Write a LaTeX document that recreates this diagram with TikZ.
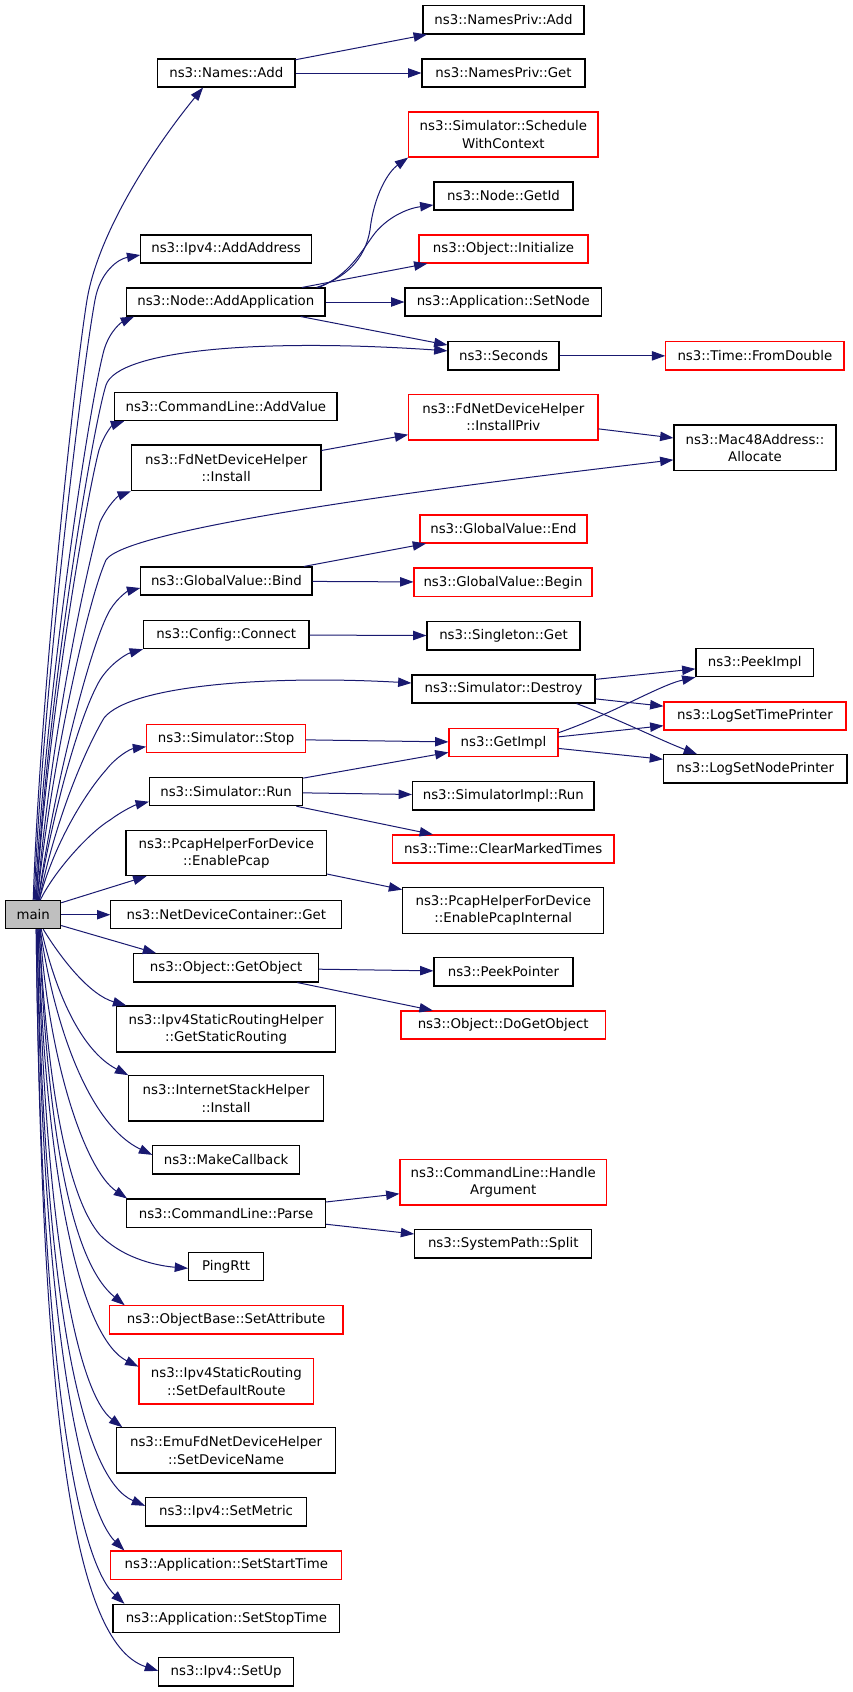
\documentclass[tikz,border=0pt]{standalone}
\usepackage{fontspec}
\setmainfont{DejaVu Sans}
\usetikzlibrary{arrows.meta,calc}
\definecolor{edgecol}{RGB}{25,25,112}
\definecolor{boxred}{RGB}{255,0,0}
\definecolor{maingray}{RGB}{191,191,191}
\newcommand\mkbox[7][]{%
 \pgfmathsetmacro\bxcx{(#3+#5)/2}%
 \pgfmathsetmacro\bxcy{(#4+#6)/2}%
 \pgfmathsetmacro\bxw{(#5-#3)*0.75}%
 \pgfmathsetmacro\bxh{(#6-#4)*0.75}%
 \node[box,minimum width=\bxw pt,minimum height=\bxh pt,#1] (#2) at (\bxcx,\bxcy) {#7};}
\begin{document}
\begin{tikzpicture}[x=0.75pt,y=-0.75pt,
  box/.style={draw=black,line width=0.8pt,fill=white,inner sep=0pt,align=center,font=\fontsize{10}{13}\selectfont},
  redbox/.style={draw=boxred},
  calledge/.style={draw=edgecol,line width=0.75pt,-{Triangle[length=10pt,width=7pt]}}]
\fill[white] (0,0) rectangle (853,1692);
\useasboundingbox (0,0) rectangle (853,1692);
% nodes
\mkbox{namesprivadd}{423}{5.7}{584}{34}{ns3::NamesPriv::Add}
\mkbox{namesprivget}{422}{59}{585}{87}{ns3::NamesPriv::Get}
\mkbox{namesadd}{157.6}{59}{295}{87}{ns3::Names::Add}
\mkbox[redbox]{schedule}{408.7}{112}{598}{157}{ns3::Simulator::Schedule\\WithContext}
\mkbox{getid}{434}{182}{573}{210}{ns3::Node::GetId}
\mkbox[redbox]{initialize}{419}{235}{588}{263}{ns3::Object::Initialize}
\mkbox{addaddress}{140.8}{235}{311.4}{263}{ns3::Ipv4::AddAddress}
\mkbox{addapp}{126.6}{288}{325}{316}{ns3::Node::AddApplication}
\mkbox{setnode}{405}{288}{601.6}{316}{ns3::Application::SetNode}
\mkbox{seconds}{448}{341.7}{559}{370}{ns3::Seconds}
\mkbox[redbox]{fromdouble}{665.8}{341.7}{844}{370}{ns3::Time::FromDouble}
\mkbox{addvalue}{114.7}{392.7}{337}{420.7}{ns3::CommandLine::AddValue}
\mkbox[redbox]{installpriv}{408.7}{394.7}{598}{440}{ns3::FdNetDeviceHelper\\::InstallPriv}
\mkbox{mac48}{674}{425}{836}{470.7}{ns3::Mac48Address::\\Allocate}
\mkbox{fdinstall}{131.5}{445}{321}{490.7}{ns3::FdNetDeviceHelper\\::Install}
\mkbox[redbox]{gvend}{420}{515}{587}{543}{ns3::GlobalValue::End}
\mkbox{gvbind}{140.8}{567}{312}{595}{ns3::GlobalValue::Bind}
\mkbox[redbox]{gvbegin}{414}{568}{592}{596.7}{ns3::GlobalValue::Begin}
\mkbox{connect}{143.5}{620.7}{309}{648.7}{ns3::Config::Connect}
\mkbox{singleton}{427}{621.7}{580}{650}{ns3::Singleton::Get}
\mkbox{peekimpl}{696}{648.7}{813.6}{676.7}{ns3::PeekImpl}
\mkbox{destroy}{412}{675}{595}{703}{ns3::Simulator::Destroy}
\mkbox[redbox]{logtime}{664}{702}{846}{730}{ns3::LogSetTimePrinter}
\mkbox[redbox]{stop}{146.7}{724.7}{305.4}{752.7}{ns3::Simulator::Stop}
\mkbox[redbox]{getimpl}{449}{728.7}{558}{756.7}{ns3::GetImpl}
\mkbox{lognode}{663.6}{754.7}{847}{783}{ns3::LogSetNodePrinter}
\mkbox{run}{149.5}{777.7}{302.7}{805.7}{ns3::Simulator::Run}
\mkbox{simimplrun}{412.5}{781.7}{594}{810}{ns3::SimulatorImpl::Run}
\mkbox[redbox]{clearmarked}{392.4}{835}{614}{863}{ns3::Time::ClearMarkedTimes}
\mkbox{enablepcap}{126}{830.7}{326.6}{875.7}{ns3::PcapHelperForDevice\\::EnablePcap}
\mkbox[fill=maingray]{main}{5.7}{900.7}{60.7}{928.7}{main}
\mkbox{ndcget}{110.9}{900.7}{341.8}{928.7}{ns3::NetDeviceContainer::Get}
\mkbox{enablepcapint}{402.7}{887.7}{603.8}{933.3}{ns3::PcapHelperForDevice\\::EnablePcapInternal}
\mkbox{getobject}{133.7}{953.7}{318.5}{982}{ns3::Object::GetObject}
\mkbox{peekpointer}{434}{957.7}{573}{986}{ns3::PeekPointer}
\mkbox{getstaticrouting}{116.8}{1006}{335.3}{1052}{ns3::Ipv4StaticRoutingHelper\\::GetStaticRouting}
\mkbox[redbox]{dogetobject}{401}{1011}{605.4}{1039}{ns3::Object::DoGetObject}
\mkbox{internetstack}{128.8}{1075.7}{323.4}{1121}{ns3::InternetStackHelper\\::Install}
\mkbox{makecallback}{152.7}{1145.7}{299.5}{1174}{ns3::MakeCallback}
\mkbox[redbox]{handlearg}{400}{1159.3}{606.5}{1205}{ns3::CommandLine::Handle\\Argument}
\mkbox{parse}{126.6}{1199}{325.5}{1227.3}{ns3::CommandLine::Parse}
\mkbox{split}{414.7}{1229.7}{591.8}{1258}{ns3::SystemPath::Split}
\mkbox{pingrtt}{188.6}{1252.7}{263.6}{1280.7}{PingRtt}
\mkbox[redbox]{setattribute}{109.2}{1305.7}{343}{1334}{ns3::ObjectBase::SetAttribute}
\mkbox[redbox]{setdefaultroute}{139}{1358.7}{313.6}{1404}{ns3::Ipv4StaticRouting\\::SetDefaultRoute}
\mkbox{setdevicename}{116.8}{1427.7}{335.3}{1473}{ns3::EmuFdNetDeviceHelper\\::SetDeviceName}
\mkbox{setmetric}{145.6}{1497.7}{306.5}{1526}{ns3::Ipv4::SetMetric}
\mkbox[redbox]{setstarttime}{110.9}{1551}{341.8}{1579.3}{ns3::Application::SetStartTime}
\mkbox{setstoptime}{113}{1604.3}{339.7}{1632.7}{ns3::Application::SetStopTime}
\mkbox{setup}{158.7}{1657.7}{293.5}{1686}{ns3::Ipv4::SetUp}
% main upward edges
\draw[calledge] ($(main.north)+(0,0)$) .. controls (40,700) and (74,380) .. (87,300) .. controls (99,228) and (160,140) .. ($(namesadd.south west)+(46,0)$);
\draw[calledge] ($(main.north)+(1,0)$) .. controls (42,700) and (82,370) .. (95,300) .. controls (100,272) and (118,259) .. ($(addaddress.west)+(0,6)$);
\draw[calledge] ($(main.north)+(2,0)$) .. controls (45,700) and (88,410) .. (104,350) .. controls (110,330) and (122,322) .. ($(addapp.south west)+(8,0)$);
\draw[calledge] ($(main.north)+(3,0)$) .. controls (47,700) and (92,430) .. (106,385) .. controls (118,350) and (260,338) .. ($(seconds.west)+(0,-5)$);
\draw[calledge] ($(main.north)+(3,0)$) .. controls (48,720) and (86,500) .. (99,450) .. controls (105,432) and (113,425) .. ($(addvalue.south west)+(10,0)$);
\draw[calledge] ($(main.north)+(4,0)$) .. controls (50,740) and (86,570) .. (100,522) .. controls (108,505) and (118,496) .. (fdinstall.south west);
\draw[calledge] ($(main.north)+(4,0)$) .. controls (52,760) and (88,600) .. (106,560) .. controls (125,530) and (400,492) .. ($(mac48.west)+(0,12)$);
\draw[calledge] ($(main.north)+(5,0)$) .. controls (55,780) and (92,640) .. (110,610) .. controls (118,597) and (128,591) .. ($(gvbind.west)+(0,7)$);
\draw[calledge] ($(main.north)+(5,0)$) .. controls (55,800) and (82,710) .. (100,680) .. controls (110,664) and (126,654) .. (connect.south west);
\draw[calledge] ($(main.north)+(6,0)$) .. controls (55,820) and (85,750) .. (104,718) .. controls (130,685) and (270,675) .. ($(destroy.west)+(0,-6)$);
\draw[calledge] ($(main.north)+(6,0)$) .. controls (55,840) and (88,790) .. (106,770) .. controls (116,757) and (130,749) .. ($(stop.west)+(0,8)$);
\draw[calledge] ($(main.north)+(7,0)$) .. controls (55,870) and (90,832) .. (110,820) .. controls (122,811) and (135,805) .. ($(run.west)+(0,10)$);
\draw[calledge] ($(main.north east)+(0,2.6)$) -- ($(enablepcap.south west)+(21,0)$);
\draw[calledge] (main.east) -- (ndcget.west);
\draw[calledge] ($(main.south east)+(0,-3.7)$) -- ($(getobject.north west)+(23,0)$);
% main downward edges
\draw[calledge] ($(main.south)+(10,0)$) .. controls (62,960) and (90,995) .. ($(getstaticrouting.north west)+(10,0)$);
\draw[calledge] ($(main.south)+(8,0)$) .. controls (55,990) and (80,1050) .. (internetstack.north west);
\draw[calledge] ($(main.south)+(7,0)$) .. controls (55,1030) and (90,1125) .. ($(makecallback.west)+(0,-5)$);
\draw[calledge] ($(main.south)+(7,0)$) .. controls (48,1060) and (85,1170) .. ($(parse.north west)+(1,0)$);
\draw[calledge] ($(main.south)+(6,0)$) .. controls (48,1100) and (70,1200) .. (100,1235) .. controls (125,1260) and (160,1266) .. ($(pingrtt.west)+(0,1.6)$);
\draw[calledge] ($(main.south)+(6,0)$) .. controls (48,1150) and (75,1265) .. ($(setattribute.north west)+(16,0)$);
\draw[calledge] ($(main.south)+(5,0)$) .. controls (46,1200) and (85,1340) .. ($(setdefaultroute.west)+(0,-14.7)$);
\draw[calledge] ($(main.south)+(5,0)$) .. controls (45,1250) and (80,1395) .. ($(setdevicename.north west)+(6,0)$);
\draw[calledge] ($(main.south)+(4,0)$) .. controls (44,1320) and (85,1480) .. ($(setmetric.west)+(0,-6)$);
\draw[calledge] ($(main.south)+(4,0)$) .. controls (42,1360) and (88,1515) .. ($(setstarttime.north west)+(14,0)$);
\draw[calledge] ($(main.south)+(3,0)$) .. controls (41,1400) and (82,1565) .. ($(setstoptime.north west)+(12,0)$);
\draw[calledge] ($(main.south)+(3,0)$) .. controls (42,1460) and (80,1645) .. ($(setup.west)+(0,-1)$);
% secondary edges
\draw[calledge] (namesadd) -- (namesprivadd);
\draw[calledge] (namesadd) -- (namesprivget);
\draw[calledge] ($(addapp.north east)+(-9,0)$) .. controls (345,278) and (365,260) .. (370,230) .. controls (374,195) and (388,172) .. (schedule.south west);
\draw[calledge] ($(addapp.north east)+(-7,0)$) .. controls (350,275) and (362,250) .. (375,233) .. controls (390,215) and (410,208) .. ($(getid.west)+(0,9)$);
\draw[calledge] (addapp) -- (initialize);
\draw[calledge] (addapp) -- (setnode);
\draw[calledge] (addapp) -- (seconds);
\draw[calledge] (seconds) -- (fromdouble);
\draw[calledge] (fdinstall) -- (installpriv);
\draw[calledge] (installpriv) -- (mac48);
\draw[calledge] (gvbind) -- (gvend);
\draw[calledge] (gvbind) -- (gvbegin);
\draw[calledge] (connect) -- (singleton);
\draw[calledge] (destroy) -- (peekimpl);
\draw[calledge] (destroy) -- (logtime);
\draw[calledge] ($(destroy.south east)+(-19,0)$) .. controls (625,722) and (660,740) .. ($(lognode.north west)+(34,0)$);
\draw[calledge] (stop) -- (getimpl);
\draw[calledge] ($(getimpl.east)+(0,-10)$) .. controls (610,715) and (660,685) .. (peekimpl.south west);
\draw[calledge] (getimpl) -- (logtime);
\draw[calledge] (getimpl) -- (lognode);
\draw[calledge] (run) -- (getimpl);
\draw[calledge] (run) -- (simimplrun);
\draw[calledge] (run) -- (clearmarked);
\draw[calledge] (enablepcap) -- (enablepcapint);
\draw[calledge] (getobject) -- (peekpointer);
\draw[calledge] (getobject) -- (dogetobject);
\draw[calledge] (parse) -- (handlearg);
\draw[calledge] (parse) -- (split);
\end{tikzpicture}
\end{document}
